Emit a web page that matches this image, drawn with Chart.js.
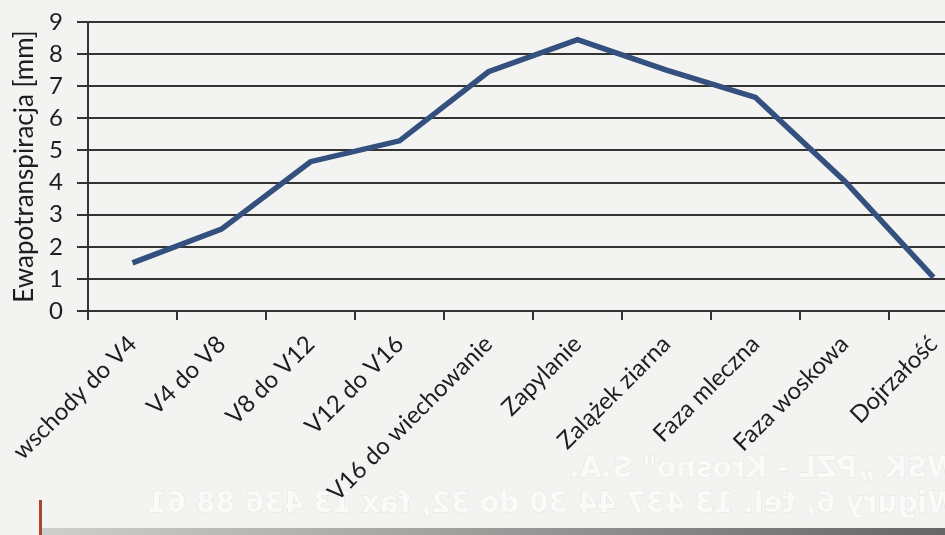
<!DOCTYPE html>
<html>
<head>
<meta charset="utf-8">
<script src="https://cdn.jsdelivr.net/npm/chart.js@4"></script>
<style>
  html, body { margin: 0; padding: 0; background: #f3f3f1; overflow: hidden; }
  #wrap { width: 990px; height: 535px; }
</style>
</head>
<body>
<div id="wrap"><canvas id="myChart" width="990" height="535"></canvas></div>
<script>
const stages = ['wschody do V4', 'V4 do V8', 'V8 do V12', 'V12 do V16', 'V16 do wiechowanie',
                'Zapylanie', 'Zalążek ziarna', 'Faza mleczna', 'Faza woskowa', 'Dojrzałość'];
const evapo = [1.5, 2.55, 4.65, 5.3, 7.45, 8.45, 7.5, 6.65, 4.05, 1.05];
const yTitle = 'Ewapotranspiracja [mm]';
// text showing through from the back of the scanned page (mirrored)
const footerLines = ['WSK „PZL - Krosno" S.A.', 'Wigury 6, tel. 13 437 44 30 do 32, fax 13 436 88 61'];

const fontFam = 'Lato, "Open Sans", sans-serif';

const footer = {
    id: 'footer',
    beforeDraw(chart) {
        const c = chart.ctx;
        c.save();
        c.fillStyle = '#f3f3f1';
        c.fillRect(0, 0, chart.width, chart.height);
        c.translate(958, 0);
        c.scale(-1, 1);
        c.font = 'bold 28px "DejaVu Sans"';
        c.textAlign = 'left';
        c.textBaseline = 'middle';
        c.fillStyle = '#fafaf9';
        c.strokeStyle = '#e6e6e4';
        c.lineWidth = 1.2;
        c.strokeText(footerLines[0], 0, 470);
        c.fillText(footerLines[0], 0, 470);
        c.strokeText(footerLines[1], 0, 505);
        c.fillText(footerLines[1], 0, 505);
        c.restore();
    },
    afterDraw(chart) {
        const c = chart.ctx;
        c.save();
        c.fillStyle = '#b0442a';
        c.fillRect(39, 500, 3, 35);
        const g = c.createLinearGradient(40, 0, 945, 0);
        g.addColorStop(0, '#cfcfcd');
        g.addColorStop(1, '#666');
        c.fillStyle = g;
        c.fillRect(42, 528, 948, 7);
        c.restore();
    }
};

new Chart(document.getElementById('myChart'), {
    type: 'line',
    data: {
        labels: stages,
        datasets: [{
            data: evapo,
            borderColor: '#33507f',
            borderWidth: 5.5,
            pointRadius: 0,
            tension: 0
        }]
    },
    options: {
        responsive: false,
        animation: false,
        layout: { padding: { top: 22, right: 12, left: 0, bottom: 0 } },
        plugins: {
            legend: { display: false },
            tooltip: { enabled: false }
        },
        scales: {
            x: {
                offset: true,
                grid: {
                    offset: true,
                    drawOnChartArea: false,
                    drawTicks: true,
                    tickLength: 9,
                    color: '#333',
                    lineWidth: 2
                },
                border: { display: true, color: '#333', width: 2 },
                ticks: {
                    color: '#1e1e1e',
                    font: { family: fontFam, size: 24 },
                    minRotation: 45,
                    maxRotation: 45,
                    autoSkip: false,
                    padding: 10
                },
                afterFit: s => {
                    s.height = 224;
                    s.paddingLeft = 0;
                    s.paddingRight = 0;
                }
            },
            y: {
                min: 0,
                max: 9,
                grid: {
                    color: '#333',
                    lineWidth: 2,
                    tickLength: 11
                },
                border: { display: true, color: '#333', width: 2 },
                ticks: {
                    stepSize: 1,
                    autoSkip: false,
                    color: '#1e1e1e',
                    font: { family: fontFam, size: 24 },
                    padding: 14
                },
                title: {
                    display: true,
                    text: yTitle,
                    color: '#1e1e1e',
                    font: { family: fontFam, size: 26 },
                    padding: { top: 9, bottom: 0 }
                },
                afterFit: s => {
                    s.width = 88;
                    s.paddingTop = 0;
                    s.paddingBottom = 0;
                }
            }
        }
    },
    plugins: [footer]
});
</script>
</body>
</html>
